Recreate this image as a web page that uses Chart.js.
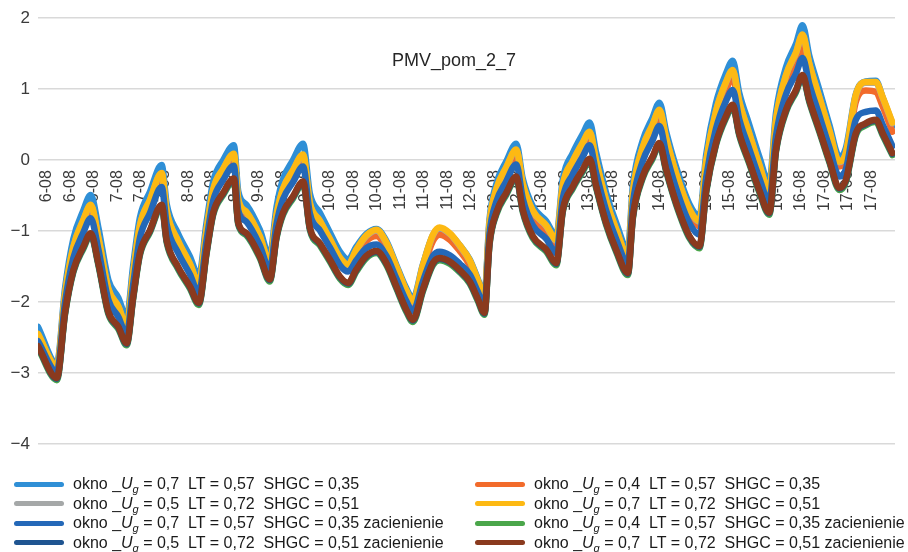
<!DOCTYPE html>
<html><head><meta charset="utf-8">
<script src="https://cdn.jsdelivr.net/npm/chart.js@4.4.0/dist/chart.umd.min.js"></script>
<style>
html,body{margin:0;padding:0;background:#fff;}
#wrap{position:relative;width:908px;height:552px;overflow:hidden;font-family:'Liberation Sans',Arial,sans-serif;}
#c{position:absolute;left:0;top:0;}
#title{position:absolute;top:50px;left:0;width:908px;text-align:center;font-size:18px;color:#262626;}
#legend{position:absolute;left:0;top:474px;width:908px;height:78px;}
.item{position:absolute;height:20px;display:flex;align-items:center;font-size:16px;color:#1a1a1a;white-space:pre;}
.swatch{width:50px;height:5px;border-radius:3px;margin-right:9px;flex:none;}
.sub{font-size:11px;font-style:italic;position:relative;top:4px;}
</style></head>
<body><div id="wrap"><canvas id="c" width="908" height="552"></canvas><div id="title"></div><div id="legend"></div></div>
<script>
const chartTitle = 'PMV_pom_2_7';
const xTickLabels = ['6-08','6-08','6-08','7-08','7-08','7-08','8-08','8-08','8-08','9-08','9-08','9-08',
  '10-08','10-08','10-08','11-08','11-08','11-08','12-08','12-08','12-08','13-08','13-08','13-08',
  '14-08','14-08','14-08','15-08','15-08','15-08','16-08','16-08','16-08','17-08','17-08','17-08'];
const firstLabelHour = 0;
const labelStepHours = 8;
const yTicks = [2, 1, 0, -1, -2, -3, -4];

// time of each reading, hours from 6-08 00:00
const hours = [-3,3.4,6.2,9,12.4,14.9,17.5,20.9,24.3,27.1,29.3,31.6,35,39,40.7,44.5,48.6,51.6,54.2,56.5,59.9,63.5,65,67.8,72.3,75.7,78,80.2,83.6,87,89.3,92.7,96.1,99.5,102.3,105.1,108.5,111.9,115.3,118.7,122.1,124.3,127.7,131.1,133.4,136.8,140.2,143.6,146.3,148.6,150.3,152.6,156,159.4,161.6,165,169.6,173,175.2,178.6,182,184.3,186.5,189.9,193.3,197.3,199,202.3,205.7,208,210.3,213.7,218.2,221.6,223.9,227.2,230.6,232.9,235.1,238.5,241.9,245.3,247.6,251,254.4,256.6,258.9,262.3,265.7,269.1,271.3,274.7,278.1,281.5,283.8,287.1];

const okno07_057_035 = [-2.35,-2.87,-1.80,-1.11,-0.71,-0.49,-0.95,-1.69,-1.94,-2.22,-1.49,-0.81,-0.45,-0.07,-0.62,-1.03,-1.36,-1.64,-0.89,-0.30,0.0,0.21,-0.44,-0.63,-0.98,-1.35,-0.66,-0.27,0.0,0.23,-0.47,-0.74,-1.02,-1.29,-1.40,-1.22,-1.04,-0.97,-1.14,-1.48,-1.81,-1.95,-1.47,-1.06,-0.97,-1.04,-1.20,-1.40,-1.67,-1.90,-0.84,-0.34,-0.02,0.23,-0.26,-0.65,-0.86,-1.07,-0.27,0.10,0.37,0.53,0.11,-0.46,-0.88,-1.26,-0.36,0.27,0.60,0.81,0.40,-0.10,-0.62,-0.79,0.08,0.80,1.22,1.40,0.95,0.50,0.05,-0.32,0.67,1.31,1.64,1.90,1.47,0.99,0.50,0.05,0.17,0.93,1.11,1.12,0.88,0.48];
const okno04_057_035 = [-2.49,-2.93,-1.92,-1.28,-0.91,-0.70,-1.15,-1.87,-2.12,-2.38,-1.67,-1.01,-0.66,-0.28,-0.81,-1.21,-1.53,-1.79,-1.06,-0.48,-0.19,0.02,-0.62,-0.79,-1.13,-1.48,-0.85,-0.50,-0.26,-0.04,-0.70,-0.94,-1.18,-1.43,-1.53,-1.34,-1.14,-1.07,-1.24,-1.57,-1.90,-2.04,-1.55,-1.14,-1.05,-1.12,-1.28,-1.48,-1.75,-1.98,-0.96,-0.49,-0.19,0.05,-0.43,-0.81,-1.01,-1.21,-0.44,-0.10,0.16,0.31,-0.09,-0.63,-1.04,-1.39,-0.52,0.09,0.40,0.61,0.22,-0.27,-0.77,-0.93,-0.10,0.59,0.99,1.16,0.73,0.29,-0.14,-0.49,0.46,1.07,1.37,1.60,1.23,0.78,0.33,-0.09,0.03,0.82,0.98,0.96,0.76,0.40];
const okno05_072_051 = [-2.46,-2.91,-1.89,-1.23,-0.85,-0.64,-1.10,-1.82,-2.07,-2.34,-1.61,-0.93,-0.57,-0.19,-0.73,-1.14,-1.47,-1.74,-1.00,-0.42,-0.13,0.08,-0.56,-0.74,-1.08,-1.44,-0.78,-0.41,-0.15,0.07,-0.61,-0.86,-1.12,-1.38,-1.48,-1.27,-1.07,-0.99,-1.17,-1.51,-1.85,-2.00,-1.49,-1.06,-0.96,-1.04,-1.21,-1.42,-1.70,-1.94,-0.90,-0.42,-0.11,0.14,-0.34,-0.72,-0.93,-1.13,-0.36,-0.02,0.24,0.39,-0.02,-0.57,-0.98,-1.34,-0.46,0.17,0.49,0.70,0.30,-0.20,-0.70,-0.87,-0.02,0.68,1.09,1.26,0.82,0.37,-0.07,-0.43,0.56,1.19,1.51,1.76,1.35,0.88,0.41,-0.03,0.09,0.91,1.09,1.09,0.88,0.52];
const okno07_072_051 = [-2.45,-2.90,-1.88,-1.22,-0.84,-0.63,-1.09,-1.81,-2.06,-2.33,-1.60,-0.92,-0.56,-0.18,-0.72,-1.13,-1.46,-1.73,-0.99,-0.41,-0.12,0.09,-0.55,-0.73,-1.07,-1.43,-0.77,-0.40,-0.14,0.08,-0.60,-0.85,-1.11,-1.37,-1.47,-1.26,-1.06,-0.98,-1.16,-1.50,-1.84,-1.99,-1.48,-1.05,-0.95,-1.03,-1.20,-1.41,-1.69,-1.93,-0.89,-0.41,-0.10,0.15,-0.33,-0.71,-0.92,-1.12,-0.35,-0.01,0.25,0.40,-0.01,-0.56,-0.97,-1.33,-0.45,0.18,0.50,0.71,0.31,-0.19,-0.69,-0.86,-0.01,0.69,1.10,1.27,0.83,0.38,-0.06,-0.42,0.57,1.20,1.52,1.77,1.36,0.89,0.42,-0.02,0.10,0.92,1.10,1.10,0.89,0.53];
const okno07_057_035z = [-2.55,-2.98,-2.00,-1.38,-1.02,-0.82,-1.26,-1.97,-2.21,-2.46,-1.76,-1.10,-0.75,-0.38,-0.91,-1.30,-1.61,-1.87,-1.14,-0.57,-0.28,-0.08,-0.71,-0.87,-1.20,-1.54,-0.90,-0.55,-0.31,-0.09,-0.75,-0.99,-1.23,-1.48,-1.57,-1.41,-1.24,-1.19,-1.35,-1.67,-1.99,-2.13,-1.71,-1.35,-1.29,-1.34,-1.46,-1.61,-1.85,-2.05,-1.04,-0.59,-0.30,-0.06,-0.54,-0.92,-1.11,-1.31,-0.54,-0.20,0.05,0.21,-0.18,-0.71,-1.11,-1.45,-0.61,-0.02,0.28,0.48,0.09,-0.40,-0.89,-1.05,-0.24,0.44,0.83,0.99,0.58,0.16,-0.25,-0.58,0.34,0.93,1.22,1.44,1.07,0.63,0.18,-0.23,-0.13,0.57,0.68,0.70,0.50,0.20];
const okno04_057_035z = [-2.65,-3.10,-2.17,-1.58,-1.25,-1.06,-1.48,-2.17,-2.38,-2.61,-1.96,-1.34,-1.02,-0.66,-1.16,-1.53,-1.81,-2.04,-1.33,-0.77,-0.49,-0.29,-0.91,-1.06,-1.38,-1.71,-1.10,-0.77,-0.54,-0.33,-0.98,-1.20,-1.43,-1.67,-1.76,-1.57,-1.38,-1.31,-1.48,-1.81,-2.14,-2.28,-1.85,-1.48,-1.41,-1.46,-1.58,-1.74,-1.98,-2.18,-1.20,-0.77,-0.49,-0.26,-0.73,-1.10,-1.29,-1.48,-0.73,-0.40,-0.16,-0.01,-0.39,-0.91,-1.29,-1.62,-0.82,-0.26,0.02,0.21,-0.16,-0.63,-1.10,-1.24,-0.45,0.21,0.59,0.75,0.35,-0.05,-0.45,-0.77,0.12,0.68,0.96,1.17,0.82,0.40,-0.03,-0.42,-0.31,0.35,0.49,0.54,0.35,0.07];
const okno05_072_051z = [-2.63,-3.08,-2.15,-1.56,-1.23,-1.04,-1.46,-2.15,-2.36,-2.59,-1.94,-1.32,-1.00,-0.64,-1.14,-1.51,-1.79,-2.02,-1.31,-0.75,-0.47,-0.27,-0.89,-1.04,-1.36,-1.69,-1.08,-0.75,-0.52,-0.31,-0.96,-1.18,-1.41,-1.65,-1.74,-1.55,-1.36,-1.29,-1.46,-1.79,-2.12,-2.26,-1.83,-1.46,-1.39,-1.44,-1.56,-1.72,-1.96,-2.16,-1.18,-0.75,-0.47,-0.24,-0.71,-1.08,-1.27,-1.46,-0.71,-0.38,-0.14,0.01,-0.37,-0.89,-1.27,-1.60,-0.80,-0.24,0.04,0.23,-0.14,-0.61,-1.08,-1.22,-0.43,0.23,0.61,0.77,0.37,-0.03,-0.43,-0.75,0.14,0.70,0.98,1.19,0.84,0.42,-0.01,-0.40,-0.29,0.37,0.51,0.56,0.37,0.09];
const okno07_072_051z = [-2.62,-3.07,-2.14,-1.55,-1.22,-1.03,-1.45,-2.14,-2.35,-2.58,-1.93,-1.31,-0.99,-0.63,-1.13,-1.50,-1.78,-2.01,-1.30,-0.74,-0.46,-0.26,-0.88,-1.03,-1.35,-1.68,-1.07,-0.74,-0.51,-0.30,-0.95,-1.17,-1.40,-1.64,-1.73,-1.54,-1.35,-1.28,-1.45,-1.78,-2.11,-2.25,-1.82,-1.45,-1.38,-1.43,-1.55,-1.71,-1.95,-2.15,-1.17,-0.74,-0.46,-0.23,-0.70,-1.07,-1.26,-1.45,-0.70,-0.37,-0.13,0.02,-0.36,-0.88,-1.26,-1.59,-0.79,-0.23,0.05,0.24,-0.13,-0.60,-1.07,-1.21,-0.42,0.24,0.62,0.78,0.38,-0.02,-0.42,-0.74,0.15,0.71,0.99,1.20,0.85,0.43,0.0,-0.39,-0.28,0.38,0.52,0.57,0.38,0.10];

const seriesValues = [okno07_057_035, okno04_057_035, okno05_072_051, okno07_072_051,
  okno07_057_035z, okno04_057_035z, okno05_072_051z, okno07_072_051z];
const uValues = ['0,7','0,4','0,5','0,7','0,7','0,4','0,5','0,7'];
const ltValues = ['0,57','0,57','0,72','0,72','0,57','0,57','0,72','0,72'];
const shgcValues = ['0,35','0,35','0,51','0,51','0,35','0,35','0,51','0,51'];
const shaded = [false,false,false,false,true,true,true,true];
const colors = ['#2f8fd6','#f26b2b','#a5a8a8','#fdb913','#2468b8','#4aa64a','#1f5591','#8a3a1e'];

Chart.defaults.font.family = "'Liberation Sans', Arial, sans-serif";

const datasets = seriesValues.map((vals, i) => ({
  label: 'okno _Ug = ' + uValues[i] + '  LT = ' + ltValues[i] + '  SHGC = ' + shgcValues[i] + (shaded[i] ? ' zacienienie' : ''),
  data: hours.map((h, k) => ({x: h, y: vals[k]})),
  borderColor: colors[i],
  backgroundColor: colors[i],
  borderWidth: 6.5,
  pointRadius: 0,
  cubicInterpolationMode: 'monotone',
  borderCapStyle: 'round',
  borderJoinStyle: 'round',
  fill: false,
  order: seriesValues.length - i
}));

const chart = new Chart(document.getElementById('c'), {
  type: 'line',
  data: { datasets },
  options: {
    responsive: false,
    animation: false,
    devicePixelRatio: 1,
    layout: { padding: { left: 0, right: 13, top: 18, bottom: 108 } },
    plugins: { legend: { display: false }, title: { display: false }, tooltip: { enabled: false } },
    scales: {
      x: {
        type: 'linear',
        min: -3, max: 288,
        position: { y: 0 },
        grid: { display: false, drawTicks: false },
        border: { display: false },
        afterBuildTicks: (scale) => {
          scale.ticks = xTickLabels.map((_, i) => ({ value: firstLabelHour + i * labelStepHours }));
        },
        ticks: {
          autoSkip: false, minRotation: 90, maxRotation: 90, padding: 10,
          color: '#3a3a3a', font: { size: 16 },
          callback: (v, i) => xTickLabels[i]
        }
      },
      y: {
        min: yTicks[yTicks.length - 1], max: yTicks[0],
        afterFit: (scale) => { scale.width = 38; },
        afterBuildTicks: (scale) => { scale.ticks = yTicks.map(v => ({ value: v })); },
        grid: { color: '#d9d9d9', lineWidth: 1.5, drawTicks: false },
        border: { display: false },
        ticks: {
          padding: 8, color: '#3a3a3a', font: { size: 17 },
          callback: (v) => (v < 0 ? '\u2212' + Math.abs(v) : String(v))
        }
      }
    }
  }
});

document.getElementById('title').textContent = chartTitle;
const legend = document.getElementById('legend');
datasets.forEach((ds, i) => {
  const col = i % 2, row = Math.floor(i / 2);
  const item = document.createElement('div');
  item.className = 'item';
  item.style.left = (col === 0 ? 14 : 475) + 'px';
  item.style.top = (row * 19.5) + 'px';
  const sw = document.createElement('span');
  sw.className = 'swatch';
  sw.style.background = ds.borderColor;
  item.appendChild(sw);
  const txt = document.createElement('span');
  txt.innerHTML = 'okno _<i>U</i><span class="sub">g</span> = ' + uValues[i] + '  LT = ' + ltValues[i] +
    '  SHGC = ' + shgcValues[i] + (shaded[i] ? ' zacienienie' : '');
  item.appendChild(txt);
  legend.appendChild(item);
});
</script></body></html>
